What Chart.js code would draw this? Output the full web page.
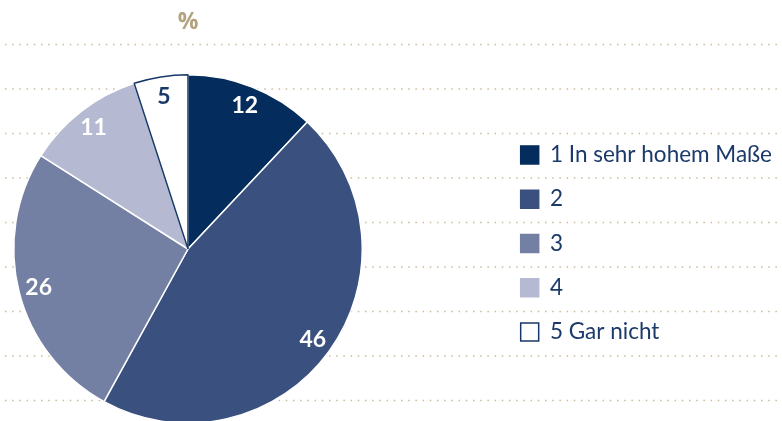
<!DOCTYPE html>
<html>
<head>
<meta charset="utf-8">
<script src="https://cdn.jsdelivr.net/npm/chart.js@4/dist/chart.umd.min.js"></script>
<style>
html,body{margin:0;padding:0;background:#fff;overflow:hidden;}
#wrap{position:relative;width:782px;height:421px;}
</style>
</head>
<body>
<div id="wrap"><canvas id="c" width="782" height="421"></canvas></div>
<script>
// Data
const categories = ['1 In sehr hohem Maße', '2', '3', '4', '5 Gar nicht'];
const values = [12, 46, 26, 11, 5];
const unitLabel = '%';

// Styles
const sliceColors = ['#042c5c', '#3a507e', '#7380a3', '#b5b9d1', '#ffffff'];
const sliceBorders = ['#ffffff', '#ffffff', '#ffffff', '#ffffff', '#173868'];
const labelColors = ['#ffffff', '#ffffff', '#ffffff', '#ffffff', '#173868'];
const navyText = '#1b3a6a';
const tan = '#b3a27f';
const dotColor = '#c9bc9f';

const decor = {
  id: 'decor',
  afterLayout(chart) {
    chart.chartArea = {left: 13, top: 74, right: 363, bottom: 424, width: 350, height: 350};
  },
  beforeDatasetsDraw(chart) {
    const ctx = chart.ctx;
    ctx.save();
    ctx.strokeStyle = dotColor;
    ctx.lineWidth = 1.5;
    ctx.setLineDash([1.5, 5.7]);
    for (let i = 0; i < 9; i++) {
      const y = 44.5 + i * 44.5;
      ctx.beginPath();
      ctx.moveTo(5, y);
      ctx.lineTo(782, y);
      ctx.stroke();
    }
    ctx.restore();
  },
  afterDatasetsDraw(chart) {
    const ctx = chart.ctx;
    const meta = chart.getDatasetMeta(0);
    ctx.save();
    ctx.textAlign = 'center';
    ctx.textBaseline = 'middle';
    ctx.font = 'bold 23px Lato';
    meta.data.forEach((arc, i) => {
      const p = arc.getProps(['x', 'y', 'startAngle', 'endAngle', 'outerRadius'], true);
      const mid = (p.startAngle + p.endAngle) / 2;
      const r = p.outerRadius * 0.885;
      ctx.fillStyle = labelColors[i];
      ctx.fillText(String(values[i]), p.x + Math.cos(mid) * r, p.y + Math.sin(mid) * r);
    });
    // unit label above pie
    const a0 = meta.data[0].getProps(['x'], true);
    ctx.fillStyle = tan;
    ctx.font = 'bold 23px "Open Sans"';
    ctx.fillText(unitLabel, a0.x, 22);
    ctx.restore();
  }
};

new Chart(document.getElementById('c'), {
  type: 'pie',
  data: {
    labels: categories,
    datasets: [{
      data: values,
      backgroundColor: sliceColors,
      borderColor: sliceBorders,
      borderWidth: 1.5,
      clip: false
    }]
  },
  options: {
    responsive: false,
    animation: false,
    layout: {padding: {top: 66, bottom: 0, left: 13, right: 0}},
    plugins: {
      tooltip: {enabled: false},
      legend: {
        position: 'right',
        align: 'center',
        labels: {
          color: navyText,
          font: {family: 'Lato', size: 22.5},
          boxWidth: 18,
          boxHeight: 18,
          padding: 21.8,
          generateLabels(chart) {
            const items = Chart.controllers.pie.overrides.plugins.legend.labels.generateLabels(chart);
            return items.map((it, i) => {
              it.strokeStyle = i === 4 ? sliceBorders[4] : sliceColors[i];
              it.lineWidth = 1.5;
              it.fontColor = navyText;
              return it;
            });
          }
        }
      }
    }
  },
  plugins: [decor]
});
</script>
</body>
</html>
